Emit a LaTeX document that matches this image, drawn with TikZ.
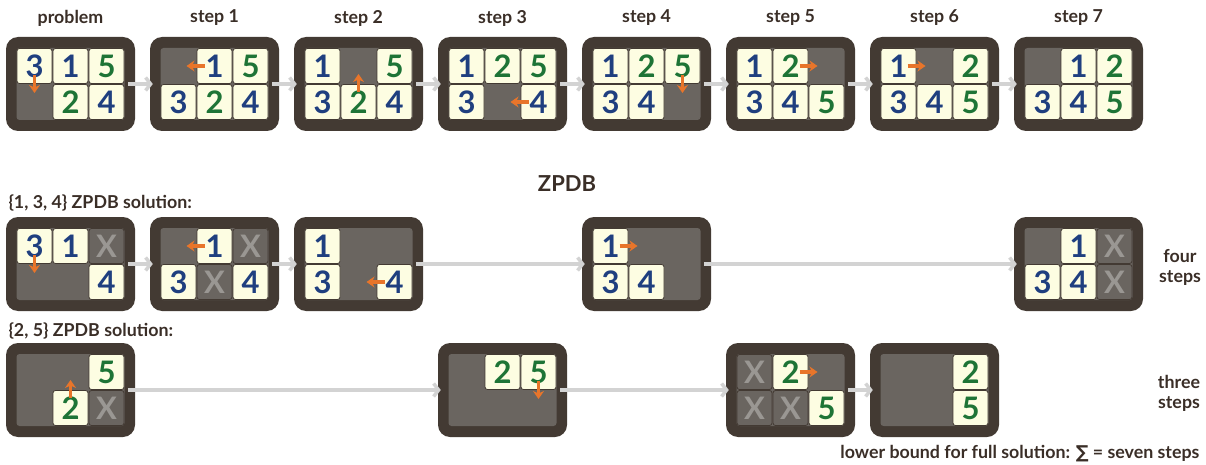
\documentclass[tikz,border=0pt]{standalone}
\usepackage{fontspec}
\setmainfont{Lato}
\newfontfamily\symfont{DejaVu Sans}
\usetikzlibrary{calc,arrows.meta}
\definecolor{pzframe}{HTML}{433A33}
\definecolor{pztray}{HTML}{6A6560}
\definecolor{pztile}{HTML}{FDFDE2}
\definecolor{pzblue}{HTML}{1F3F7F}
\definecolor{pzgreen}{HTML}{1E7436}
\definecolor{pzx}{HTML}{9A9793}
\definecolor{pzorange}{HTML}{E8752A}
\definecolor{pztext}{HTML}{3A2E27}
\definecolor{pzflow}{HTML}{D3D3D3}

% one sliding puzzle: name, centre, tiles as col/row/label
\newcommand{\puzzle}[3]{%
  \node[frame] (#1) at (#2) {};
  \node[tray] (#1-in) at (#2) {};
  \foreach \col/\row/\lab in {#3}
    \node[tile, lab\lab] (#1-\col\row) at ($(#1)+(36*\col-36,36*\row-18)$) {\lab};
}

\begin{document}
\begin{tikzpicture}[x=1pt, y=-1pt,
  frame/.style={fill=pzframe, rounded corners=12pt, minimum width=129pt,
                minimum height=94pt, inner sep=0pt},
  tray/.style={fill=pztray, rounded corners=3pt, minimum width=108pt,
               minimum height=72pt, inner sep=0pt},
  tile/.style={draw=pzframe, line width=0.8pt, fill=pztile, rounded corners=2.5pt,
               minimum size=35pt, inner sep=0pt,
               font=\fontsize{31}{31}\selectfont\bfseries},
  lab1/.style={text=pzblue}, lab3/.style={text=pzblue}, lab4/.style={text=pzblue},
  lab2/.style={text=pzgreen}, lab5/.style={text=pzgreen},
  labX/.style={fill=pztray, text=pzx},
  title/.style={font=\fontsize{17.8}{20}\selectfont\bfseries, text=pztext},
  flow/.style={line width=3.5pt, pzflow, -{Straight Barb[length=5pt,width=13pt]}},
  move/.style={line width=3.5pt, pzorange, -{Stealth[length=8pt,width=11pt,inset=2.5pt]}},
]
\useasboundingbox (0,0) rectangle (1206,465);

% headings
\foreach \k/\t in {0/problem,1/step 1,2/step 2,3/step 3,4/step 4,5/step 5,6/step 6,7/step 7}
  \node[title] (h\k) at (70.5+144*\k, 18) {\t};
\node[title, font=\fontsize{22}{24}\selectfont\bfseries] (zpdb) at (567, 184) {ZPDB};
\node[title, anchor=west] (set1) at (5, 203) {\{1, 3, 4\} ZPDB solution:};
\node[title, anchor=west] (set2) at (5, 331) {\{2, 5\} ZPDB solution:};

% full solution
\puzzle{p0}{70.5,84}{0/0/3, 1/0/1, 2/0/5, 1/1/2, 2/1/4}
\puzzle{p1}{214.5,84}{1/0/1, 2/0/5, 0/1/3, 1/1/2, 2/1/4}
\puzzle{p2}{358.5,84}{0/0/1, 2/0/5, 0/1/3, 1/1/2, 2/1/4}
\puzzle{p3}{502.5,84}{0/0/1, 1/0/2, 2/0/5, 0/1/3, 2/1/4}
\puzzle{p4}{646.5,84}{0/0/1, 1/0/2, 2/0/5, 0/1/3, 1/1/4}
\puzzle{p5}{790.5,84}{0/0/1, 1/0/2, 0/1/3, 1/1/4, 2/1/5}
\puzzle{p6}{934.5,84}{0/0/1, 2/0/2, 0/1/3, 1/1/4, 2/1/5}
\puzzle{p7}{1078.5,84}{1/0/1, 2/0/2, 0/1/3, 1/1/4, 2/1/5}
\foreach \a/\b in {p0/p1,p1/p2,p2/p3,p3/p4,p4/p5,p5/p6,p6/p7}
  \draw[flow] ([xshift=-7pt]\a.east) -- ([xshift=3pt]\b.west);
\draw[move] (p0-00.center) ++(0,9) -- ++(0,18);
\draw[move] (p1-10.center) ++(-10,0) -- ++(-18,0);
\draw[move] (p2-11.center) ++(0,-10) -- ++(0,-18);
\draw[move] (p3-21.center) ++(-10,0) -- ++(-18,0);
\draw[move] (p4-20.center) ++(0,9) -- ++(0,18);
\draw[move] (p5-10.center) ++(9,0) -- ++(18,0);
\draw[move] (p6-00.center) ++(9,0) -- ++(18,0);

% {1, 3, 4} pattern
\puzzle{a0}{70.5,264}{0/0/3, 1/0/1, 2/0/X, 2/1/4}
\puzzle{a1}{214.5,264}{1/0/1, 2/0/X, 0/1/3, 1/1/X, 2/1/4}
\puzzle{a2}{358.5,264}{0/0/1, 0/1/3, 2/1/4}
\puzzle{a3}{646.5,264}{0/0/1, 0/1/3, 1/1/4}
\puzzle{a4}{1078.5,264}{1/0/1, 2/0/X, 0/1/3, 1/1/4, 2/1/X}
\foreach \a/\b in {a0/a1,a1/a2,a2/a3,a3/a4}
  \draw[flow] ([xshift=-7pt]\a.east) -- ([xshift=3pt]\b.west);
\draw[move] (a0-00.center) ++(0,9) -- ++(0,18);
\draw[move] (a1-10.center) ++(-10,0) -- ++(-18,0);
\draw[move] (a2-21.center) ++(-10,0) -- ++(-18,0);
\draw[move] (a3-00.center) ++(9,0) -- ++(18,0);
\node[title, align=center] (four) at (1180, 267) {four\\steps};

% {2, 5} pattern
\puzzle{c0}{70.5,390}{2/0/5, 1/1/2, 2/1/X}
\puzzle{c1}{502.5,390}{1/0/2, 2/0/5}
\puzzle{c2}{790.5,390}{0/0/X, 1/0/2, 0/1/X, 1/1/X, 2/1/5}
\puzzle{c3}{934.5,390}{2/0/2, 2/1/5}
\foreach \a/\b in {c0/c1,c1/c2,c2/c3}
  \draw[flow] ([xshift=-7pt]\a.east) -- ([xshift=3pt]\b.west);
\draw[move] (c0-11.center) ++(0,-10) -- ++(0,-18);
\draw[move] (c1-20.center) ++(0,9) -- ++(0,18);
\draw[move] (c2-10.center) ++(9,0) -- ++(18,0);
\node[title, align=center] (three) at (1179, 393) {three\\steps};

\node[title, anchor=east] (bound) at (1203, 454)
  {lower bound for full solution: {\symfont\bfseries ∑} = seven steps};
\end{tikzpicture}
\end{document}
